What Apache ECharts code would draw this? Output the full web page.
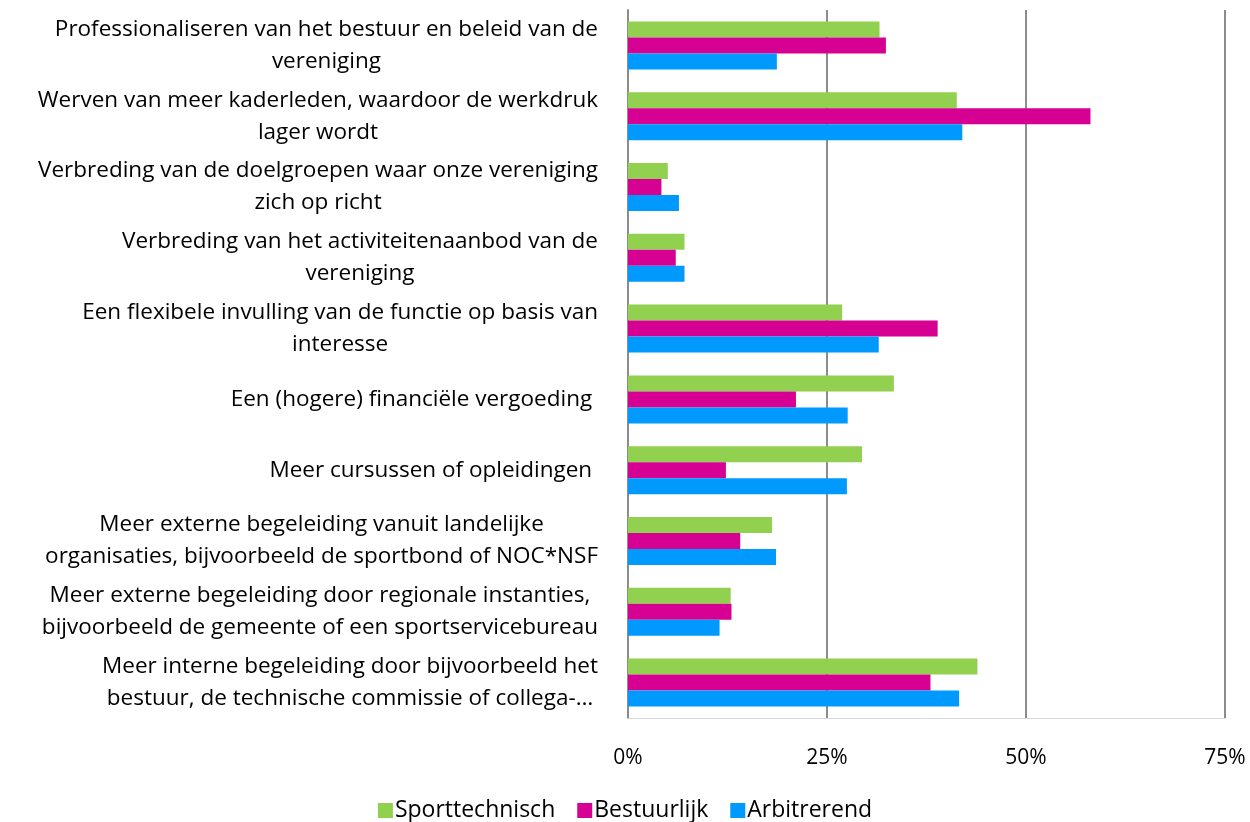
<!DOCTYPE html>
<html>
<head>
<meta charset="utf-8">
<script src="https://cdn.jsdelivr.net/npm/echarts@6/dist/echarts.min.js"></script>
<style>
  html, body { margin: 0; padding: 0; background: #fff; }
  #chart { width: 1250px; height: 822px; }
</style>
</head>
<body>
<div id="chart"></div>
<script>
// categorieën, van boven naar beneden
const categories = [
  'Professionaliseren van het bestuur en beleid van de\nvereniging',
  'Werven van meer kaderleden, waardoor de werkdruk\nlager wordt',
  'Verbreding van de doelgroepen waar onze vereniging\nzich op richt',
  'Verbreding van het activiteitenaanbod van de\nvereniging',
  'Een flexibele invulling van de functie op basis van\ninteresse',
  'Een (hogere) financiële vergoeding ',
  'Meer cursussen of opleidingen ',
  'Meer externe begeleiding vanuit landelijke\norganisaties, bijvoorbeeld de sportbond of NOC*NSF',
  'Meer externe begeleiding door regionale instanties,\nbijvoorbeeld de gemeente of een sportservicebureau',
  'Meer interne begeleiding door bijvoorbeeld het\nbestuur, de technische commissie of collega-…'
]

const seriesNames = ['Sporttechnisch', 'Bestuurlijk', 'Arbitrerend']

// percentages
const sporttechnisch = [31.6, 41.3, 5.0, 7.1, 26.9, 33.4, 29.4, 18.1, 12.9, 43.9]
const bestuurlijk = [32.4, 58.1, 4.2, 6.0, 38.9, 21.1, 12.3, 14.1, 13.0, 38.0]
const arbitrerend = [18.7, 42.0, 6.4, 7.1, 31.5, 27.6, 27.5, 18.6, 11.5, 41.6]

const xTicks = [0, 25, 50, 75]

const colors = ['#92D050', '#D60093', '#009AFF']
const font = '"Open Sans", sans-serif'

const chart = echarts.init(document.getElementById('chart'))

const values = [sporttechnisch, bestuurlijk, arbitrerend]

chart.setOption({
  animation: false,
  textStyle: { fontFamily: font },
  grid: {
    left: 628,
    right: 25,
    top: 10,
    bottom: 104,
    containLabel: false
  },
  legend: {
    data: seriesNames,
    top: 794,
    left: 'center',
    icon: 'rect',
    itemWidth: 15,
    itemHeight: 15,
    itemGap: 22,
    textStyle: { fontSize: 23, color: '#000', fontFamily: font, padding: [0, 0, 0, -3] }
  },
  xAxis: {
    type: 'value',
    min: xTicks[0],
    max: xTicks[xTicks.length - 1],
    interval: 25,
    axisLine: { show: true, lineStyle: { color: '#d9d9d9', width: 1 } },
    axisTick: { show: false },
    axisLabel: {
      formatter: '{value}%',
      fontSize: 21,
      color: '#000',
      margin: 30,
      fontFamily: font
    },
    splitLine: { show: true, lineStyle: { color: '#8c8c8c', width: 2 } }
  },
  yAxis: {
    type: 'category',
    inverse: true,
    data: categories,
    axisLine: { show: true, lineStyle: { color: '#8c8c8c', width: 2 } },
    axisTick: { show: false },
    axisLabel: {
      margin: 30,
      align: 'right',
      lineHeight: 32,
      formatter: function (v) {
        return v.split('\n').map(l => '{c|' + l + '}').join('\n')
      },
      rich: {
        c: { align: 'center', fontSize: 22.5, color: '#000', lineHeight: 32, fontFamily: font }
      }
    }
  },
  series: seriesNames.map((name, i) => ({
    name: name,
    type: 'bar',
    data: values[i],
    barWidth: 16,
    barGap: '0%',
    itemStyle: { color: colors[i] }
  }))
})
</script>
</body>
</html>
